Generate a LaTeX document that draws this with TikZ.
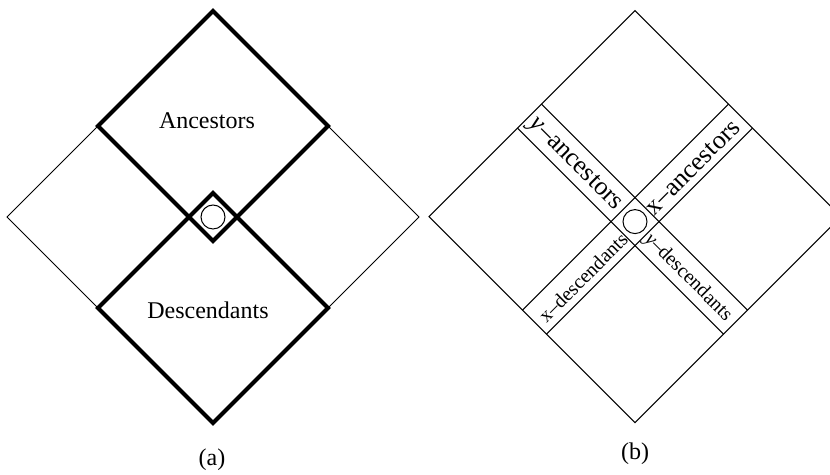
\documentclass[tikz,border=0pt]{standalone}
\usepackage{fontspec}
\setmainfont{Liberation Serif}
\begin{document}
\begin{tikzpicture}[x=0.5pt,y=0.5pt,
    outline/.style={line width=0.5pt},
    region/.style={line width=2pt},
    big/.style={font=\fontsize{12}{14}\selectfont},
    band/.style={font=\fontsize{13}{15}\selectfont},
    smallband/.style={font=\fontsize{10}{12}\selectfont}]
  \useasboundingbox (0,0) rectangle (830,475);
  % (a)
  \begin{scope}[shift={(213,258)}]
    \draw[outline] (206,0) -- (0,206) -- (-206,0) -- (0,-206) -- cycle;
    \draw[region] (0,206) -- (115,91) -- (0,-24) -- (-115,91) -- cycle;
    \draw[region] (0,24) -- (115,-91) -- (0,-206) -- (-115,-91) -- cycle;
    \draw[outline] (0,0) circle (12);
    \node[big] (anc) at (-6,96) {Ancestors};
    \node[big] (desc) at (-5,-93) {Descendants};
  \end{scope}
  \node[big] (capa) at (212,15) {(a)};
  % (b)
  \begin{scope}[shift={(635,258.4)}]
    \draw[outline] (206,0) -- (0,206) -- (-206,0) -- (0,-206) -- cycle;
    \draw[outline] (-117.5,88.5) -- (88.5,-117.5);
    \draw[outline] (-93.5,112.5) -- (112.5,-93.5);
    \draw[outline] (-112.5,-93.5) -- (93.5,112.5);
    \draw[outline] (-88.5,-117.5) -- (117.5,88.5);
    \draw[outline] (0,-5) circle (12);
    \node[band,rotate=-45] (yanc) at (-60,52) {\textit{y}--ancestors};
    \node[band,rotate=45] (xanc) at (58,49) {x--ancestors};
    \node[smallband,rotate=45] (xdesc) at (-52,-61) {x--descendants};
    \node[smallband,rotate=-45] (ydesc) at (53,-61) {\textit{y}--descendants};
  \end{scope}
  \node[big] (capb) at (635,21) {(b)};
\end{tikzpicture}
\end{document}
